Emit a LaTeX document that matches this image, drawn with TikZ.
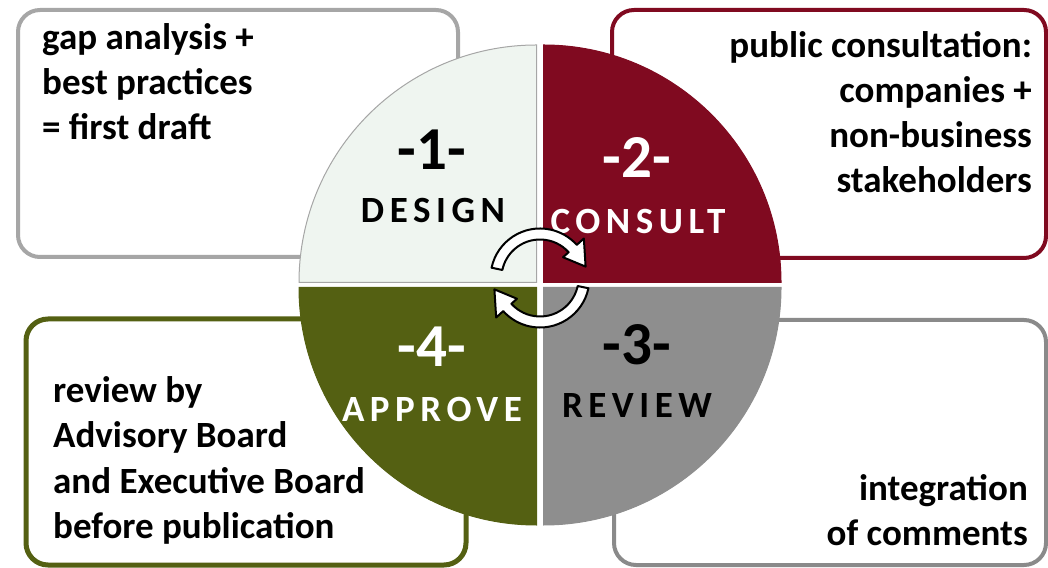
\documentclass[tikz,border=0pt]{standalone}
\usepackage{fontspec}
\setmainfont{Carlito}
\newfontfamily\spaced[LetterSpace=15]{Carlito}
\definecolor{wine}{RGB}{128,10,32}
\definecolor{olive}{RGB}{84,96,18}
\definecolor{stone}{RGB}{142,142,142}
\definecolor{pale}{RGB}{239,245,240}
\definecolor{edgegrey}{RGB}{166,166,166}
\definecolor{darkgrey}{RGB}{138,138,138}

\begin{document}
\begin{tikzpicture}[x=1pt,y=1pt,
	box/.style={draw,line width=4pt,rounded corners=22pt,fill=white,inner sep=0pt},
	note/.style={inner sep=0pt,font=\fontsize{37}{45}\selectfont\bfseries},
	num/.style={inner sep=0pt,anchor=base,font=\fontsize{61}{64}\selectfont\bfseries},
	stage/.style={inner sep=0pt,anchor=base,font=\fontsize{37}{40}\selectfont\bfseries\spaced},
	turn/.style={fill=white,draw=black,line width=2pt,line join=round}]
	\useasboundingbox (0,0) rectangle (1048,567);
	% boxes round the circle
	\node[box,draw=edgegrey,minimum width=440,minimum height=247] (design box) at (238,433.5) {};
	\node[box,draw=wine,minimum width=434,minimum height=248] (consult box) at (829,433) {};
	\node[box,draw=olive,line width=5pt,minimum width=440,minimum height=246] (approve box) at (246,125) {};
	\node[box,draw=darkgrey,minimum width=432,minimum height=245] (review box) at (830,124.5) {};
	% base of a node with more lines = base of its last line
	\node[note,anchor=base west,align=left] (design text) at (42,427) {gap analysis +\\best practices\\= first draft};
	\node[note,anchor=base east,align=right] (consult text) at (1032,374) {public consultation:\\companies +\\non-business\\stakeholders};
	\node[note,anchor=base west,align=left] (approve text) at (53,29) {review by\\Advisory Board\\and Executive Board\\before publication};
	\node[note,anchor=base east,align=right] (review text) at (1028,22) {integration\\of comments};
	% the four quarters
	\coordinate (ctr) at (540,282);
	\foreach \a/\dx/\dy/\col/\edge in {90/-3.5/2.5/pale/edgegrey, 0/3.5/2.5/wine/wine, -90/3.5/-2.5/stone/stone, 180/-3.5/-2.5/olive/olive}
	{
	\filldraw[fill=\col,draw=\edge,line width=1pt] ([shift={(\dx,\dy)}]ctr) -- ++(\a:237.5) arc (\a:\a+90:237.5) -- cycle;
	}
	\node[num] (n1) at (432,397) {-1-};
	\node[stage] (design) at (433,344) {DESIGN};
	\node[num,white] (n2) at (637,389) {-2-};
	\node[stage,white] (consult) at (638,333) {CONSULT};
	\node[num,white] (n4) at (432,200) {-4-};
	\node[stage,white] (approve) at (432,145) {APPROVE};
	\node[num] (n3) at (637,202) {-3-};
	\node[stage] (review) at (637,149) {REVIEW};
	% turning arrows
	\coordinate (hub) at (540,289);
	\foreach \r in {0,180}
	{
	\filldraw[turn,shift={(hub)},rotate=\r] (168:49.5) arc (168:42:49.5) -- (42:59) -- (14:47) -- (42:31) -- (42:38.5) arc (42:168:38.5) -- cycle;
	}
\end{tikzpicture}
\end{document}
